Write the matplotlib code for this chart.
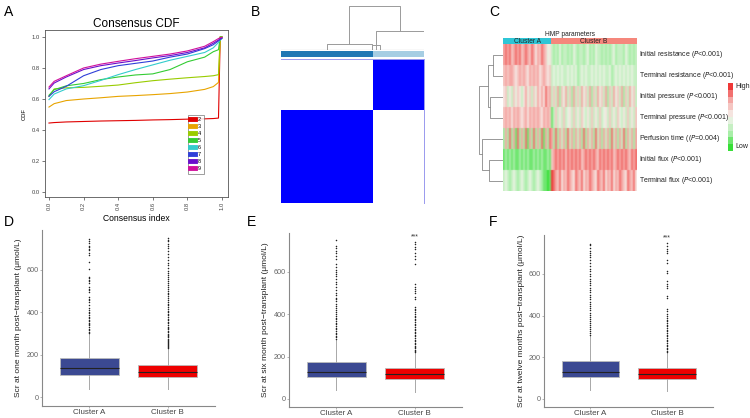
import matplotlib
matplotlib.use("Agg")
import matplotlib.pyplot as plt
import numpy as np
from matplotlib.colors import LinearSegmentedColormap, ListedColormap

plt.rcParams['font.family'] = ['Liberation Sans', 'DejaVu Sans']

# ---------------- DATA ----------------
# Panel A: consensus CDF
cdf_x = [0, 0.03, 0.1, 0.2, 0.3, 0.4, 0.5, 0.6, 0.7, 0.8, 0.9, 0.95, 0.98, 0.99, 1.0]
cdf_k = ['2', '3', '4', '5', '6', '7', '8', '9']
cdf_k2 = [0.445, 0.448, 0.452, 0.455, 0.458, 0.46, 0.462, 0.465, 0.467, 0.47, 0.472, 0.474, 0.477, 1.0, 1.0]
cdf_k3 = [0.548, 0.57, 0.59, 0.60, 0.608, 0.617, 0.622, 0.628, 0.635, 0.645, 0.662, 0.68, 0.707, 1.0, 1.0]
cdf_k4 = [0.617, 0.665, 0.672, 0.675, 0.682, 0.69, 0.705, 0.718, 0.728, 0.737, 0.745, 0.75, 0.757, 1.0, 1.0]
cdf_k5 = [0.624, 0.66, 0.685, 0.70, 0.725, 0.742, 0.755, 0.762, 0.79, 0.84, 0.87, 0.905, 0.918, 1.0, 1.0]
cdf_k6 = [0.596, 0.632, 0.665, 0.686, 0.72, 0.757, 0.79, 0.82, 0.85, 0.875, 0.90, 0.93, 0.965, 0.98, 0.99]
cdf_k7 = [0.617, 0.647, 0.682, 0.75, 0.79, 0.815, 0.83, 0.845, 0.87, 0.89, 0.925, 0.95, 0.975, 0.985, 0.99]
cdf_k8 = [0.665, 0.703, 0.742, 0.79, 0.815, 0.832, 0.848, 0.865, 0.88, 0.90, 0.93, 0.96, 0.98, 0.99, 0.995]
cdf_k9 = [0.677, 0.714, 0.75, 0.80, 0.825, 0.843, 0.86, 0.875, 0.89, 0.91, 0.94, 0.97, 0.99, 0.995, 0.998]
cdf_colors = ['#E00000', '#E8A400', '#99CC00', '#33CC33', '#33CCCC', '#2F3FD8', '#6A0FCC', '#D0109C']

# Panel B: consensus matrix (cluster sizes, fraction of samples)
cluster_sizes = [0.643, 0.357]
cluster_bar_colors = ['#1F78B4', '#A6CEE3']

# Panel C: heatmap (levels 0=low .. 9=high), 24 cols cluster A + 43 cols cluster B
hm_rows = ['Initial resistance (', 'Terminal resistance (', 'Initial pressure (',
           'Terminal pressure (', 'Perfusion time ((', 'Initial flux (', 'Terminal flux (']
hm_p = ['<0.001', '<0.001', '<0.001', '<0.001', '=0.004', '<0.001', '<0.001']
hm_A = ["787867878678768757687645",
        "676776567676576767567656",
        "563536465357463647575867",
        "676757676567576767657676",
        "272827182728172827281728",
        "121212112121211212121121",
        "343234323432343234321101"]
hm_B = ["3232423323243233234232433232323423332432323",
        "3434343343434234343343434343342343434343433",
        "3637264736273637463726374637263746372637463",
        "1363536345363536435363536345363536435363536",
        "7282737283727372827372837273728372738273727",
        "6787878687878786787878768787878678787876878",
        "9876857687658768576876587685768576876587685"]
legend_levels = [9, 8, 7, 6, 5, 4, 3, 2, 1, 0]

# Panels D-F: boxplot summary statistics (umol/L)
groups = ['Cluster A', 'Cluster B']
box_colors = ['#3B4992', '#EE0000']
D_stats = [dict(q1=103, med=135, q3=182, whislo=38, whishi=300),
           dict(q1=96, med=119, q3=150, whislo=38, whishi=231)]
D_fl_A = [743, 735, 727, 712, 705, 697, 690, 676, 668, 637, 602, 565, 558, 552, 546, 538, 520,
          510, 503, 495, 470, 462, 455, 448, 432, 420, 410, 402, 395, 385, 378, 370, 362, 356,
          350, 345, 338, 330, 322, 315, 308, 302]
D_fl_B = [233, 237, 241, 246, 250, 255, 259, 264, 270, 274, 281, 287, 292, 299, 306, 311, 319,
          326, 331, 339, 347, 353, 361, 369, 377, 384, 391, 399, 407, 414, 423, 431, 439, 448,
          457, 466, 474, 483, 491, 501, 509, 519, 527, 538, 546, 556, 563, 575, 586, 594, 608,
          619, 633, 646, 661, 673, 687, 701, 713, 722, 733, 741, 749]
E_stats = [dict(q1=105, med=129, q3=173, whislo=42, whishi=280),
           dict(q1=94, med=116, q3=145, whislo=35, whishi=220)]
E_fl_A = [750, 722, 712, 700, 690, 675, 660, 638, 620, 610, 600, 590, 580, 565, 550, 540, 530,
          515, 500, 490, 478, 470, 460, 448, 440, 430, 420, 410, 400, 392, 384, 376, 368, 360,
          352, 344, 336, 328, 320, 312, 305, 298, 290, 283]
E_fl_B = [742, 730, 718, 705, 690, 672, 660, 635, 540, 530, 520, 510, 500, 480, 470, 432, 425,
          418, 410, 400, 392, 385, 378, 370, 362, 355, 348, 340, 332, 325, 318, 310, 302, 295,
          288, 280, 272, 265, 258, 250, 244, 238, 232, 226, 221]
F_stats = [dict(q1=104, med=131, q3=184, whislo=45, whishi=300),
           dict(q1=95, med=119, q3=147, whislo=40, whishi=220)]
F_fl_A = [745, 738, 725, 712, 700, 690, 680, 668, 655, 640, 625, 612, 600, 590, 578, 566, 555,
          545, 535, 525, 512, 500, 490, 478, 466, 455, 445, 435, 425, 415, 405, 395, 385, 375,
          365, 355, 345, 335, 325, 315, 305]
F_fl_B = [748, 735, 722, 710, 700, 665, 652, 615, 604, 565, 552, 540, 532, 492, 484, 430, 420,
          410, 400, 390, 380, 372, 364, 356, 348, 340, 332, 324, 316, 308, 300, 292, 284, 276,
          268, 260, 252, 245, 238, 230, 224]
sig_label = '***'
sig_y = [None, 765, 773]
y_labels = ['Scr at one month post\u2212transplant (\u03bcmol/L)',
            'Scr at six month post\u2212transplant (\u03bcmol/L)',
            'Scr at twelve months post\u2212transplant (\u03bcmol/L)']
y_ticks = [0, 200, 400, 600]

# ---------------- FIGURE ----------------
W, H = 750, 418
fig = plt.figure(figsize=(7.5, 4.18), dpi=100)


def ax_px(l, t, r, b):
    return fig.add_axes([l / W, 1 - b / H, (r - l) / W, (b - t) / H])


def plabel(x, y, s):
    fig.text(x / W, 1 - y / H, s, fontsize=10, ha='center', va='center')


# ---------- Panel A ----------
axA = ax_px(45, 30, 228, 197)
series = [cdf_k2, cdf_k3, cdf_k4, cdf_k5, cdf_k6, cdf_k7, cdf_k8, cdf_k9]
for k, vals, c in zip(cdf_k, series, cdf_colors):
    axA.plot(cdf_x, vals, color=c, lw=0.8, label=k)
axA.set_xlim(-0.023, 1.035)
axA.set_ylim(-0.032, 1.045)
axA.set_xticks([0, 0.2, 0.4, 0.6, 0.8, 1.0])
axA.set_xticklabels(['0.0', '0.2', '0.4', '0.6', '0.8', '1.0'], rotation=90)
axA.set_yticks([0, 0.2, 0.4, 0.6, 0.8, 1.0])
axA.set_yticklabels(['0.0', '0.2', '0.4', '0.6', '0.8', '1.0'])
axA.tick_params(labelsize=4.2, length=2, width=0.5, colors='#444444', pad=1.5)
for s in axA.spines.values():
    s.set_color('#555555')
    s.set_linewidth(0.6)
axA.set_title('Consensus CDF', fontsize=8.5, pad=2.5)
axA.set_xlabel('Consensus index', fontsize=6.2, labelpad=3)
axA.set_ylabel('CDF', fontsize=4.2, labelpad=4)
leg = axA.legend(loc='lower right', bbox_to_anchor=(0.885, 0.12), fontsize=4, handlelength=0.8,
                 handleheight=0.8, frameon=True, fancybox=False, borderpad=0.5, labelspacing=0.35,
                 handletextpad=0.6)
leg.get_frame().set_edgecolor('#555555')
leg.get_frame().set_linewidth(0.5)
for h in leg.legend_handles:
    h.set_linewidth(3.5)

# ---------- Panel B ----------
axBd = ax_px(281, 5, 424, 49.5)
axBd.set_xlim(0, 1)
axBd.set_ylim(0, 1.02)
gc = '#9A9A9A'
# dendrogram links: (x_left, x_right, height, h_left_child, h_right_child)
links_B = [(0.478, 0.832, 1.0, 0.137, 0.43),
           (0.664, 1.0, 0.43, 0.0, 0.0),
           (0.324, 0.634, 0.137, 0.0, 0.02),
           (0.634, 0.692, 0.10, 0.0, 0.0)]
for xl, xr, hh, hl, hr in links_B:
    axBd.plot([xl, xl, xr, xr], [hl, hh, hh, hr], color=gc, lw=0.7, solid_capstyle='butt')
axBd.plot([0, 1], [0, 0], color='#888888', lw=0.8)
axBd.axis('off')

axBc = ax_px(281, 50.7, 424, 56.7)
edges_x = np.concatenate([[0], np.cumsum(cluster_sizes)])
axBc.pcolormesh(edges_x, [0, 1], np.array([[0, 1]]), cmap=ListedColormap(cluster_bar_colors),
                vmin=0, vmax=1)
axBc.set_xlim(0, 1)
axBc.axis('off')

axB = ax_px(281, 59, 424, 203)
cons = np.array([[1, 0], [0, 1]])  # rows from bottom: cluster A, cluster B
axB.pcolormesh(edges_x, [0, cluster_sizes[0], 1], cons,
               cmap=ListedColormap(['#FFFFFF', '#0000FF']), vmin=0, vmax=1)
axB.set_xlim(0, 1)
axB.set_ylim(0, 1)
axB.set_xticks([])
axB.set_yticks([])
for n, s in axB.spines.items():
    s.set_visible(n in ('top', 'right'))
    s.set_color('#9999EE')
    s.set_linewidth(0.7)

# ---------- Panel C ----------
nA = len(hm_A[0])
nB = len(hm_B[0])
mat = np.array([[int(c) for c in (a + b)] for a, b in zip(hm_A, hm_B)], dtype=float)
mat_img = np.repeat(mat, 21, axis=0)  # keep crisp row boundaries, blend thin columns
cmap_hm = LinearSegmentedColormap.from_list('gwr', ['#1FDC1F', '#A8EEA8', '#F6F3EE', '#F5A9A6', '#EE1E1E'])
hx0, hx1, hy0, hy1 = 503, 637, 44, 191
axC = ax_px(hx0, hy0, hx1, hy1)
axC.imshow(mat_img, cmap=cmap_hm, vmin=-0.5, vmax=9.5, aspect='auto',
           extent=(0, nA + nB, len(hm_rows), 0), interpolation='gaussian',
           interpolation_stage='rgba')
axC.set_xticks([])
axC.set_yticks([])
for s in axC.spines.values():
    s.set_visible(False)
row_h = (hy1 - hy0) / len(hm_rows)
for i, (nm, p) in enumerate(zip(hm_rows, hm_p)):
    fig.text((hx1 + 2) / W, 1 - (hy0 + row_h * (i + 0.5)) / H,
             nm + '$\\it{P}$' + p + ')', fontsize=5, va='center', ha='left', color='#222222')

axCa = ax_px(hx0, 38, hx1, 43.5)
axCa.pcolormesh([0, nA, nA + nB], [0, 1], np.array([[0, 1]]),
                cmap=ListedColormap(['#2EC6D6', '#F5877C']), vmin=0, vmax=1)
axCa.set_xlim(0, nA + nB)
axCa.axis('off')
axCa.text(nA / 2, 0.45, groups[0], fontsize=4.8, ha='center', va='center', color='#222222')
axCa.text(nA + nB / 2, 0.45, groups[1], fontsize=4.8, ha='center', va='center', color='#222222')
fig.text(570 / W, 1 - 34.5 / H, 'HMP parameters', fontsize=4.8, ha='center', va='center', color='#222222')

# row dendrogram (heights 0..1, leaves = row indices)
axCd = ax_px(478, hy0, hx0, hy1)
axCd.set_xlim(1.05, 0)
axCd.set_ylim(len(hm_rows), 0)
links_C = [((0.5, 1.5), 0.42, (0, 0)),
           ((2.5, 3.5), 0.55, (0, 0)),
           ((1.0, 3.0), 0.62, (0.42, 0.55)),
           ((5.5, 6.5), 0.58, (0, 0)),
           ((4.5, 6.0), 0.875, (0, 0.58)),
           ((2.0, 5.25), 1.0, (0.62, 0.875))]
for (ya, yb), hh, (ha, hb) in links_C:
    axCd.plot([ha, hh, hh, hb], [ya, ya, yb, yb], color='#888888', lw=0.6)
axCd.axis('off')

# colour key
axCk = ax_px(728, 83, 733, 151)
axCk.imshow(np.array(legend_levels, dtype=float)[:, None], cmap=cmap_hm, vmin=-0.5, vmax=9.5,
            aspect='auto')
axCk.axis('off')
fig.text(735 / W, 1 - 86 / H, 'High', fontsize=5, va='center', color='#222222')
fig.text(735 / W, 1 - 147 / H, 'Low', fontsize=5, va='center', color='#222222')

# ---------- Panels D-F ----------
box_specs = [((42, 230, 215, 406), (-42, 786), D_stats, D_fl_A, D_fl_B),
             ((289, 232.7, 462, 407), (-38, 784), E_stats, E_fl_A, E_fl_B),
             ((544.3, 235, 713, 406.7), (-37, 787), F_stats, F_fl_A, F_fl_B)]
for idx, ((l, t, r, b), ylim, stats, flA, flB) in enumerate(box_specs):
    ax = ax_px(l, t, r, b)
    st = []
    for s, fl, g in zip(stats, [flA, flB], groups):
        d = dict(s)
        d['fliers'] = fl
        d['label'] = g
        st.append(d)
    bp = ax.bxp(st, positions=[1, 2], widths=0.75, patch_artist=True, showcaps=False,
                boxprops=dict(edgecolor='#BBBBBB', linewidth=0.6),
                medianprops=dict(color='#222222', linewidth=0.8),
                whiskerprops=dict(color='#A8A8A8', linewidth=0.7),
                flierprops=dict(marker='o', markersize=1.1, markerfacecolor='#222222',
                                markeredgecolor='none'))
    for patch, c in zip(bp['boxes'], box_colors):
        patch.set_facecolor(c)
    ax.set_xlim(0.4, 2.6)
    ax.set_ylim(*ylim)
    ax.set_yticks(y_ticks)
    ax.set_xticks([1, 2])
    ax.set_xticklabels(groups)
    ax.tick_params(axis='y', labelsize=5.2, length=1.5, width=0.5, colors='#999999',
                   labelcolor='#666666', pad=1)
    ax.tick_params(axis='x', labelsize=5.8, length=1.5, width=0.5, colors='#999999',
                   labelcolor='#444444', pad=1)
    for n, s in ax.spines.items():
        if n in ('top', 'right'):
            s.set_visible(False)
        else:
            s.set_color('#888888')
            s.set_linewidth(0.8)
    ax.set_ylabel(y_labels[idx], fontsize=6, labelpad=3, color='#222222')
    if sig_y[idx] is not None:
        ax.text(2, sig_y[idx], sig_label, fontsize=5, ha='center', va='center', color='#333333')

plabel(9, 12, 'A')
plabel(255, 12, 'B')
plabel(494, 12, 'C')
plabel(9, 222, 'D')
plabel(251, 222, 'E')
plabel(493, 222, 'F')

fig.savefig('out.png', dpi=100)
